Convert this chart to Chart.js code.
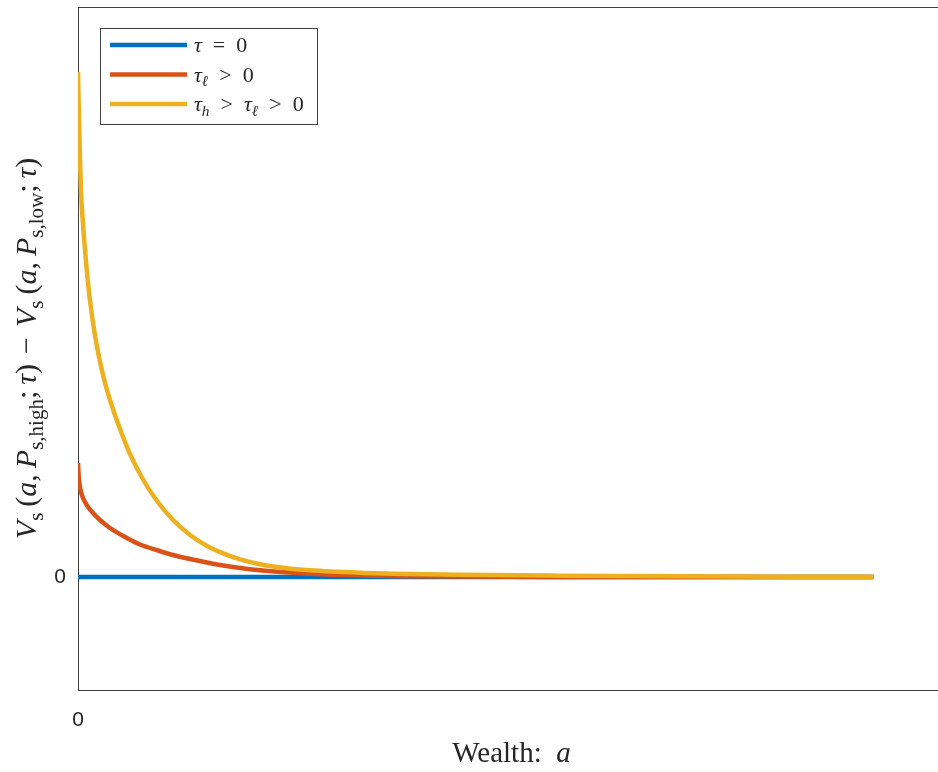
<!DOCTYPE html>
<html><head><meta charset="utf-8">
<script src="https://cdn.jsdelivr.net/npm/chart.js@4/dist/chart.umd.min.js"></script>
<style>html,body{margin:0;padding:0;overflow:hidden;background:#fff}</style>
</head><body>
<canvas id="c" width="950" height="772"></canvas>
<script>
// ---- data ----
const seriesNames = ["τ = 0", "τℓ > 0", "τh > τℓ > 0"];
const seriesColors = ["#0072BD", "#D95319", "#EDB120"];

const blueX = [0, 10, 20, 40, 60, 80, 100];
const blueY = [0, 0, 0, 0, 0, 0, 0];

const redX = [0, 0.063, 0.126, 0.252, 0.377, 0.629, 0.881, 1.258, 1.887, 2.767, 4.025, 5.912, 7.799, 10.06, 11.95, 14.09, 16.23, 18.24, 20.38, 22.89, 26.04, 29.18, 35.47, 41.76, 48.05, 60.63, 100];
const redY = [1.14, 1.04, 0.97, 0.90, 0.85, 0.79, 0.75, 0.70, 0.64, 0.57, 0.49, 0.40, 0.325, 0.265, 0.22, 0.18, 0.145, 0.115, 0.09, 0.068, 0.048, 0.033, 0.016, 0.008, 0.004, 0.001, 0];

const yellowX = [0, 0.126, 0.252, 0.377, 0.629, 0.881, 1.258, 1.761, 2.516, 3.27, 4.025, 5.283, 6.541, 8.176, 9.937, 11.95, 14.09, 16.23, 18.24, 20.38, 22.89, 26.04, 29.18, 35.47, 41.76, 48.05, 60.63, 75.47, 100];
const yellowY = [5.05, 4.57, 4.18, 3.86, 3.53, 3.27, 2.94, 2.61, 2.25, 1.98, 1.77, 1.48, 1.23, 0.975, 0.76, 0.57, 0.42, 0.31, 0.236, 0.176, 0.128, 0.09, 0.067, 0.043, 0.030, 0.022, 0.0135, 0.007, 0.002];

const xTicks = [0];
const yTicks = [0];
const xRange = [0, 109];
const yRange = [-1.13, 5.70];

// rich text for labels (style: i italic, r roman, sub roman subscript, subi italic subscript)
const legendRuns = [
  [["τ", "i"], ["\u2002=\u20020", "r"]],
  [["τ", "i"], ["ℓ", "subi"], ["\u2002>\u20020", "r"]],
  [["τ", "i"], ["h", "subi"], ["\u2002>\u2002", "r"], ["τ", "i"], ["ℓ", "subi"], ["\u2002>\u20020", "r"]]
];
const yTitleRuns = [["V", "i"], ["s", "sub"], ["\u2009(", "r"], ["a", "i"], [",\u2009", "r"], ["P", "i"], ["s,high", "sub"], [";\u2009", "r"], ["τ", "i"], [")", "r"], ["\u2004−\u2004", "r"],
  ["V", "i"], ["s", "sub"], ["\u2009(", "r"], ["a", "i"], [",\u2009", "r"], ["P", "i"], ["s,low", "sub"], [";\u2009", "r"], ["τ", "i"], [")", "r"]];
const xTitleRuns = [["Wealth:\u2002", "r"], ["a", "i"]];

// ---- helpers ----
const SERIF = '"Liberation Serif", "DejaVu Serif", serif';
function runFont(style, size) {
  const sub = style.startsWith("sub");
  const it = style === "i" || style === "subi";
  const s = sub ? size * 0.7 : size;
  return { font: (it ? "italic " : "") + s + "px " + SERIF, dy: sub ? size * 0.22 : 0 };
}
function runsWidth(ctx, runs, size) {
  let w = 0;
  for (const [t, st] of runs) { ctx.font = runFont(st, size).font; w += ctx.measureText(t).width; }
  return w;
}
function drawRuns(ctx, runs, x, y, size) {
  let cx = x;
  for (const [t, st] of runs) {
    const f = runFont(st, size);
    ctx.font = f.font;
    ctx.fillText(t, cx, y + f.dy);
    cx += ctx.measureText(t).width;
  }
  return cx;
}

const textPlugin = {
  id: "texts",
  afterDraw(chart) {
    const ctx = chart.ctx;
    const ca = chart.chartArea;
    ctx.save();
    // top border of the box
    ctx.strokeStyle = "#404040";
    ctx.lineWidth = 1;
    ctx.beginPath(); ctx.moveTo(ca.left, ca.top + 0.5); ctx.lineTo(chart.width, ca.top + 0.5); ctx.stroke();
    ctx.textBaseline = "alphabetic";
    ctx.textAlign = "left";
    // legend box
    const bx = 100, by = 28, bw = 217, bh = 96;
    ctx.fillStyle = "#ffffff";
    ctx.fillRect(bx, by, bw, bh);
    ctx.strokeStyle = "#404040";
    ctx.strokeRect(bx + 0.5, by + 0.5, bw, bh);
    const ds = chart.data.datasets;
    for (let i = 0; i < ds.length; i++) {
      const ly = 45 + i * 29.5;
      ctx.strokeStyle = ds[i].borderColor;
      ctx.lineWidth = 4.5;
      ctx.beginPath(); ctx.moveTo(110, ly); ctx.lineTo(187, ly); ctx.stroke();
      ctx.fillStyle = "#262626";
      drawRuns(ctx, legendRuns[i], 194, ly + 7, 22);
    }
    // x title
    ctx.fillStyle = "#262626";
    const xs = 29;
    const xw = runsWidth(ctx, xTitleRuns, xs);
    drawRuns(ctx, xTitleRuns, (ca.left + ca.right) / 2 - xw / 2, 762, xs);
    // y title
    const ys = 30;
    const yw = runsWidth(ctx, yTitleRuns, ys);
    ctx.translate(36, (ca.top + ca.bottom) / 2);
    ctx.rotate(-Math.PI / 2);
    drawRuns(ctx, yTitleRuns, -yw / 2, 0, ys);
    ctx.restore();
  }
};

function pts(xa, ya) { return xa.map((x, i) => ({ x, y: ya[i] })); }

const mkDs = (i, xa, ya, order) => ({
  label: seriesNames[i],
  data: pts(xa, ya),
  borderColor: seriesColors[i],
  backgroundColor: seriesColors[i],
  borderWidth: 4.5,
  pointRadius: 0,
  cubicInterpolationMode: "monotone",
  fill: false,
  order
});

const noPad = s => { s.paddingTop = 0; s.paddingBottom = 0; s.paddingLeft = 0; s.paddingRight = 0; };

new Chart(document.getElementById("c"), {
  type: "line",
  data: { datasets: [mkDs(0, blueX, blueY, 2), mkDs(1, redX, redY, 1), mkDs(2, yellowX, yellowY, 0)] },
  options: {
    responsive: false,
    animation: false,
    devicePixelRatio: 1,
    layout: { padding: { left: 0, top: 7, right: 5, bottom: 0 } },
    plugins: { legend: { display: false }, tooltip: { enabled: false } },
    scales: {
      x: {
        type: "linear", position: "bottom", min: xRange[0], max: xRange[1],
        afterBuildTicks: s => { s.ticks = xTicks.map(v => ({ value: v })); },
        afterFit: s => { s.height = 82; noPad(s); },
        grid: { display: false, drawTicks: false },
        border: { display: true, color: "#404040", width: 1 },
        ticks: { padding: 18, color: "#262626", font: { family: '"Liberation Sans", Arial, sans-serif', size: 21 }, maxRotation: 0 }
      },
      y: {
        type: "linear", min: yRange[0], max: yRange[1],
        afterBuildTicks: s => { s.ticks = yTicks.map(v => ({ value: v })); },
        afterFit: s => { s.width = 78; noPad(s); },
        grid: { display: false, drawTicks: false },
        border: { display: true, color: "#404040", width: 1 },
        ticks: { padding: 12, color: "#262626", font: { family: '"Liberation Sans", Arial, sans-serif', size: 21 } }
      }
    }
  },
  plugins: [textPlugin]
});
</script>
</body></html>
